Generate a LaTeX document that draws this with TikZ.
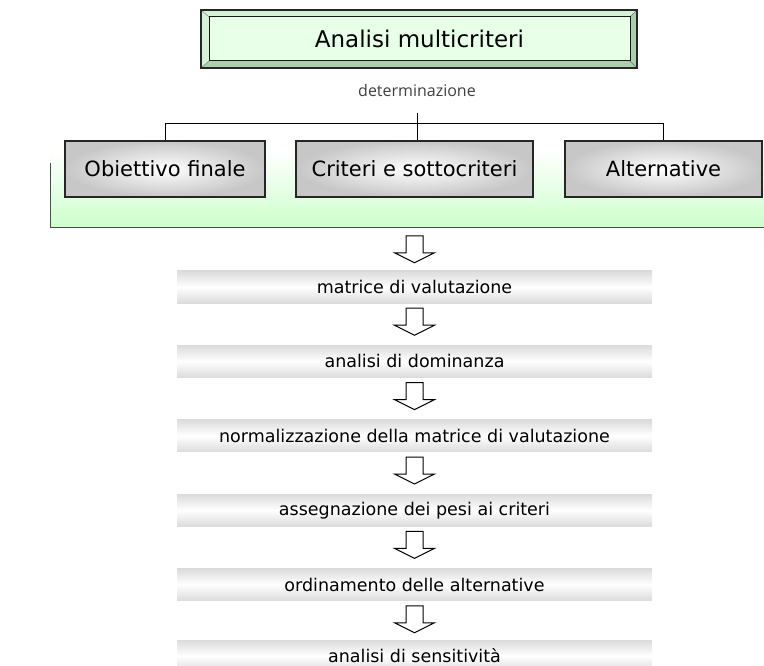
\documentclass[tikz,border=0pt]{standalone}
\usepackage{fontspec}
\setmainfont{DejaVu Sans}
\newfontfamily\detfont{Open Sans}
\usetikzlibrary{positioning,calc}

\definecolor{bandgreen}{RGB}{204,255,204}
\definecolor{titlefill}{RGB}{232,255,232}
\definecolor{bevellight}{RGB}{214,242,214}
\definecolor{beveldark}{RGB}{172,206,172}

\tikzset{
  choice/.style={draw=black!85, line width=1.4pt, inner color=white, outer color=black!22,
    minimum height=56pt, font=\fontsize{21}{24}\selectfont},
  stepbar/.style={top color=black!14, bottom color=black!14, middle color=white,
    minimum width=475pt, minimum height=32pt, font=\fontsize{17.5}{20}\selectfont},
  hollowarrow/.pic={\draw[fill=white, line width=1pt]
    (-8.5,0) -- (-8.5,-17) -- (-20,-17) -- (0,-27) -- (20,-17) -- (8.5,-17) -- (8.5,0) -- cycle;}
}

\begin{document}
\begin{tikzpicture}[x=1pt, y=1pt]
\useasboundingbox (0,0) rectangle (764,-666);
\clip (0,0) rectangle (764,-666);
% title frame (bevel)
\fill[bevellight] (201,-10) rectangle (637,-68);
\fill[beveldark] (201,-68) -- (209,-61) -- (630,-61) -- (630,-17) -- (637,-10) -- (637,-68) -- cycle;
\draw[black!55] (201,-10) -- (209,-17) (637,-10) -- (630,-17) (201,-68) -- (209,-61) (637,-68) -- (630,-61);
\draw[black!85, line width=1.2pt] (201,-10) rectangle (637,-68);
\node[draw=black!90, line width=1pt, fill=titlefill, minimum width=421pt, minimum height=44pt,
  font=\fontsize{23}{26}\selectfont] (title) at (419.5,-39) {Analisi multicriteri};
\node[font=\detfont\fontsize{16}{18}\selectfont, text=black!75] (det) at (417,-91) {determinazione};
% green band
\shade[top color=white, bottom color=bandgreen] (50,-150) rectangle (764,-228);
\draw[black!70, line width=1pt] (50,-163) -- (50,-228) -- (764,-228);
% the three items
\node[choice, minimum width=200pt] (goal) at (165,-169) {Obiettivo finale};
\node[choice, minimum width=237pt] (crit) at (414.5,-169) {Criteri e sottocriteri};
\node[choice, minimum width=197pt] (alt) at (663.5,-169) {Alternative};
\coordinate (bus) at (417,-124);
\draw[line width=1pt] ([yshift=-12pt]det.south) -- (bus |- crit.north);
\draw[line width=1pt] (goal.north) -- (goal.north |- bus) -- (alt.north |- bus) -- (alt.north);
% steps
\node[stepbar] (s1) at (414.5,-287) {matrice di valutazione};
\node[stepbar, below=42pt of s1] (s2) {analisi di dominanza};
\node[stepbar, below=42pt of s2] (s3) {normalizzazione della matrice di valutazione};
\node[stepbar, below=42pt of s3] (s4) {assegnazione dei pesi ai criteri};
\node[stepbar, below=42pt of s4] (s5) {ordinamento delle alternative};
\node[stepbar, below=39pt of s5] (s6) {analisi di sensitività};
\pic at ([yshift=35pt]s1.north) {hollowarrow};
\foreach \a in {1,...,5}
  \pic at ([yshift=-5pt]s\a.south) {hollowarrow};
\end{tikzpicture}
\end{document}
